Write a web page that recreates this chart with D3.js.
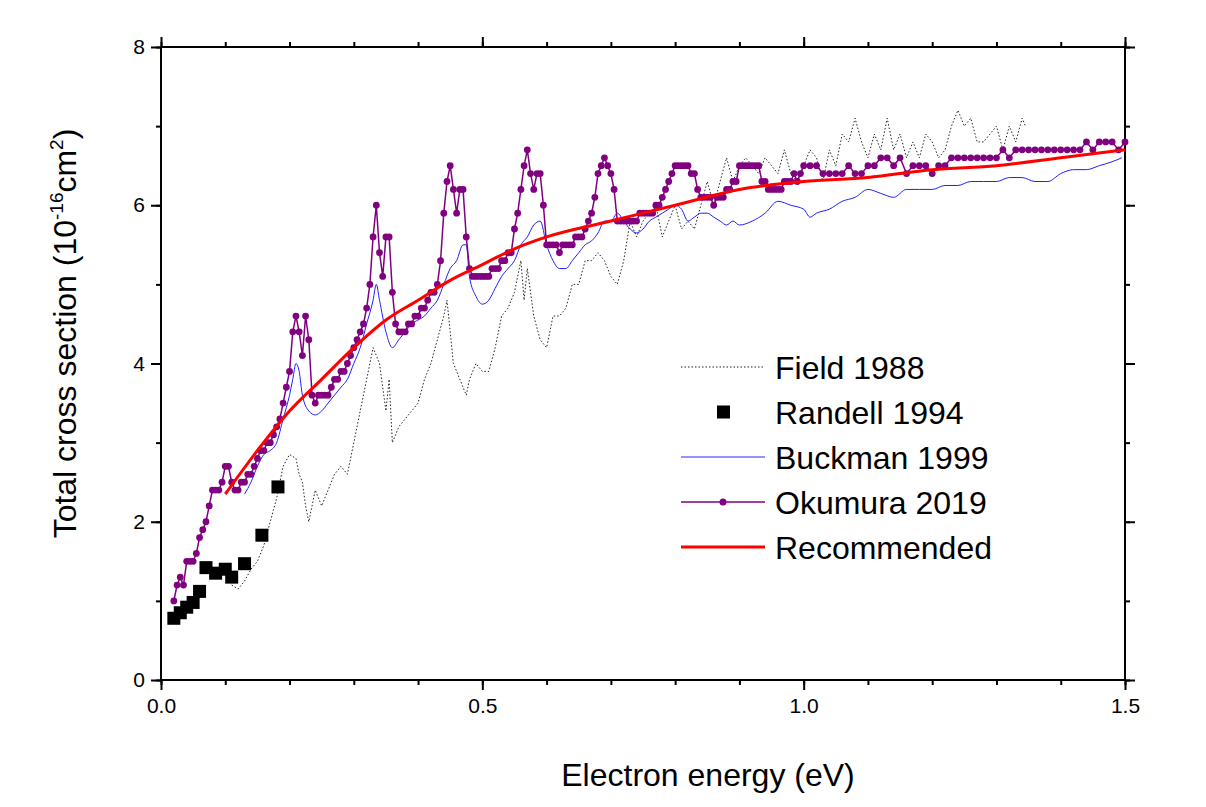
<!DOCTYPE html>
<html>
<head>
<meta charset="utf-8">
<script src="https://cdn.jsdelivr.net/npm/d3@7"></script>
<style>
  body { margin:0; background:#fff; }
  text { font-family:"Liberation Sans", Arial, sans-serif; }
</style>
</head>
<body>
<svg id="chart" width="1206" height="807"></svg>
<script>
/* ---------- data ---------- */
const randellE = [0.02,0.03,0.04,0.05,0.06,0.07,0.085,0.10,0.11,0.13,0.157,0.182];
const randellV = [0.78,0.85,0.92,0.98,1.12,1.42,1.35,1.40,1.30,1.47,1.83,2.44];

const fieldE = [0.11,0.12,0.13,0.14,0.15,0.16,0.17,0.18,0.19,0.20,0.21,0.215,0.22,0.225,0.23,0.24,0.25,0.26,0.27,0.28,0.29,0.30,0.31,0.32,0.33,0.34,0.345,0.35,0.355,0.36,0.37,0.38,0.39,0.40,0.41,0.42,0.43,0.44,0.445,0.45,0.455,0.46,0.47,0.475,0.48,0.49,0.50,0.51,0.52,0.53,0.54,0.55,0.56,0.565,0.57,0.58,0.59,0.60,0.61,0.62,0.63,0.64,0.65,0.66,0.67,0.68,0.69,0.70,0.71,0.72,0.73,0.74,0.75,0.76,0.77,0.78,0.79,0.80,0.81,0.82,0.83,0.84,0.85,0.86,0.87,0.88,0.89,0.90,0.91,0.92,0.93,0.94,0.95,0.96,0.97,0.98,0.99,1.00,1.01,1.02,1.03,1.04,1.05,1.06,1.07,1.08,1.09,1.10,1.11,1.12,1.13,1.14,1.15,1.16,1.17,1.18,1.19,1.20,1.21,1.22,1.23,1.24,1.25,1.26,1.27,1.28,1.29,1.30,1.31,1.32,1.33,1.34,1.345];
const fieldV = [1.2,1.15,1.25,1.4,1.5,1.7,2.0,2.3,2.7,2.85,2.8,2.6,2.5,2.2,2.0,2.4,2.2,2.4,2.6,2.7,2.6,3.0,3.4,3.8,4.2,4.0,3.7,3.4,3.8,3.0,3.2,3.3,3.4,3.5,3.8,4.0,4.3,4.6,4.8,4.4,4.0,3.9,3.7,3.6,3.8,4.0,3.9,3.9,4.2,4.6,4.7,4.9,5.3,4.8,5.2,4.6,4.3,4.2,4.6,4.6,4.7,5.0,5.0,5.3,5.3,5.4,5.3,5.1,5.0,5.3,5.8,5.6,5.8,5.9,6.0,5.6,5.8,6.0,5.7,5.8,5.7,6.0,6.3,6.0,6.3,6.6,6.3,6.5,6.6,6.5,6.4,6.6,6.5,6.4,6.7,6.4,6.3,6.5,6.7,6.6,6.3,6.7,6.5,6.9,6.8,7.1,6.8,6.6,6.9,6.7,7.1,6.7,6.9,6.6,6.8,6.6,6.9,6.8,6.6,6.7,7.0,7.2,7.0,7.1,6.8,6.8,6.9,7.0,6.7,7.0,6.8,7.1,7.0];

const buckmanE = [0.13,0.14,0.15,0.16,0.17,0.18,0.19,0.20,0.205,0.21,0.215,0.22,0.23,0.24,0.25,0.26,0.27,0.28,0.29,0.30,0.31,0.32,0.33,0.335,0.34,0.35,0.36,0.37,0.38,0.39,0.40,0.41,0.42,0.43,0.44,0.45,0.46,0.47,0.475,0.48,0.49,0.50,0.51,0.52,0.53,0.54,0.55,0.56,0.57,0.58,0.59,0.60,0.61,0.62,0.63,0.64,0.65,0.66,0.67,0.68,0.69,0.70,0.71,0.72,0.73,0.74,0.75,0.76,0.77,0.78,0.79,0.80,0.81,0.82,0.83,0.84,0.85,0.86,0.87,0.88,0.89,0.90,0.92,0.94,0.96,0.98,1.00,1.01,1.02,1.04,1.06,1.08,1.10,1.12,1.14,1.16,1.18,1.20,1.22,1.24,1.26,1.28,1.30,1.32,1.34,1.36,1.38,1.40,1.42,1.44,1.46,1.48,1.495];
const buckmanV = [2.35,2.5,2.7,2.85,2.9,3.0,3.3,3.6,3.8,4.0,3.9,3.6,3.4,3.35,3.4,3.5,3.6,3.7,3.8,4.0,4.2,4.5,4.8,5.0,4.8,4.4,4.2,4.3,4.4,4.5,4.55,4.6,4.7,4.8,5.0,5.2,5.3,5.5,5.5,5.1,4.85,4.75,4.8,4.95,5.1,5.2,5.3,5.5,5.6,5.75,5.8,5.5,5.3,5.2,5.2,5.3,5.4,5.5,5.55,5.65,5.8,5.8,5.9,5.8,5.7,5.65,5.7,5.8,5.85,5.9,5.95,6.0,5.95,5.8,5.85,5.9,5.9,5.85,5.8,5.75,5.8,5.75,5.8,5.9,6.05,6.0,5.95,5.85,5.9,5.95,6.05,6.1,6.2,6.15,6.1,6.2,6.2,6.2,6.25,6.25,6.3,6.3,6.3,6.35,6.35,6.3,6.3,6.4,6.45,6.45,6.5,6.55,6.6];

const okumuraE = [0.02,0.025,0.03,0.035,0.04,0.045,0.05,0.055,0.06,0.065,0.07,0.075,0.08,0.085,0.09,0.095,0.10,0.105,0.11,0.115,0.12,0.125,0.13,0.135,0.14,0.145,0.15,0.155,0.16,0.165,0.17,0.175,0.18,0.185,0.19,0.195,0.20,0.205,0.21,0.215,0.22,0.225,0.23,0.235,0.24,0.245,0.25,0.255,0.26,0.265,0.27,0.275,0.28,0.285,0.29,0.295,0.30,0.305,0.31,0.315,0.32,0.325,0.33,0.335,0.34,0.345,0.35,0.355,0.36,0.365,0.37,0.375,0.38,0.385,0.39,0.395,0.40,0.405,0.41,0.415,0.42,0.425,0.43,0.435,0.44,0.445,0.45,0.455,0.46,0.465,0.47,0.475,0.48,0.485,0.49,0.495,0.50,0.505,0.51,0.515,0.52,0.525,0.53,0.535,0.54,0.545,0.55,0.555,0.56,0.565,0.57,0.575,0.58,0.585,0.59,0.595,0.60,0.605,0.61,0.615,0.62,0.625,0.63,0.635,0.64,0.645,0.65,0.655,0.66,0.665,0.67,0.675,0.68,0.685,0.69,0.695,0.70,0.705,0.71,0.715,0.72,0.725,0.73,0.735,0.74,0.745,0.75,0.755,0.76,0.765,0.77,0.775,0.78,0.785,0.79,0.795,0.80,0.805,0.81,0.815,0.82,0.825,0.83,0.835,0.84,0.845,0.85,0.855,0.86,0.865,0.87,0.875,0.88,0.885,0.89,0.895,0.90,0.905,0.91,0.915,0.92,0.925,0.93,0.935,0.94,0.945,0.95,0.955,0.96,0.965,0.97,0.975,0.98,0.985,0.99,0.995,1.00,1.01,1.02,1.03,1.04,1.05,1.06,1.07,1.08,1.09,1.10,1.11,1.12,1.13,1.14,1.15,1.16,1.17,1.18,1.19,1.20,1.21,1.22,1.23,1.24,1.25,1.26,1.27,1.28,1.29,1.30,1.31,1.32,1.33,1.34,1.35,1.36,1.37,1.38,1.39,1.40,1.41,1.42,1.43,1.44,1.45,1.46,1.47,1.48,1.49,1.50];
const okumuraV = [1.0,1.2,1.3,1.2,1.5,1.5,1.5,1.6,1.8,1.9,2.0,2.2,2.4,2.4,2.4,2.5,2.7,2.7,2.5,2.4,2.4,2.5,2.5,2.6,2.6,2.7,2.8,2.9,2.9,3.0,3.0,3.1,3.2,3.3,3.5,3.7,3.9,4.4,4.6,4.4,4.1,4.6,4.3,3.6,3.5,3.6,3.6,3.6,3.6,3.7,3.8,3.8,3.9,3.9,4.0,4.1,4.2,4.3,4.4,4.5,4.7,5.0,5.6,6.0,5.4,5.1,5.6,5.6,4.9,4.5,4.4,4.4,4.4,4.5,4.5,4.6,4.6,4.7,4.7,4.8,4.9,4.9,5.0,5.3,5.9,6.3,6.5,6.2,5.9,6.2,6.2,5.6,5.2,5.1,5.1,5.1,5.1,5.1,5.1,5.2,5.2,5.2,5.3,5.3,5.4,5.4,5.7,5.9,6.2,6.5,6.7,6.4,6.2,6.4,6.4,6.0,5.5,5.5,5.5,5.5,5.4,5.5,5.5,5.5,5.5,5.6,5.6,5.6,5.7,5.8,5.9,6.1,6.4,6.5,6.6,6.5,6.4,6.2,5.8,5.8,5.8,5.8,5.8,5.8,5.8,5.9,5.9,5.9,5.9,5.9,6.0,6.0,6.1,6.2,6.3,6.4,6.5,6.5,6.5,6.5,6.5,6.4,6.4,6.2,6.1,6.1,6.1,6.1,6.0,6.1,6.1,6.1,6.2,6.2,6.3,6.3,6.5,6.5,6.5,6.5,6.5,6.5,6.5,6.3,6.3,6.2,6.2,6.2,6.2,6.2,6.3,6.3,6.3,6.4,6.3,6.4,6.5,6.5,6.5,6.4,6.4,6.4,6.4,6.5,6.4,6.4,6.5,6.5,6.6,6.6,6.5,6.6,6.4,6.5,6.5,6.5,6.4,6.5,6.5,6.6,6.6,6.6,6.6,6.6,6.6,6.6,6.6,6.7,6.6,6.7,6.7,6.7,6.7,6.7,6.7,6.7,6.7,6.7,6.7,6.7,6.8,6.7,6.8,6.8,6.8,6.7,6.8];

const recE = [0.10,0.15,0.20,0.25,0.30,0.35,0.40,0.45,0.50,0.55,0.60,0.70,0.80,0.90,1.00,1.10,1.20,1.30,1.40,1.50];
const recV = [2.35,2.9,3.4,3.8,4.2,4.55,4.8,5.05,5.25,5.45,5.6,5.8,6.0,6.2,6.3,6.35,6.45,6.5,6.6,6.7];

const xMajor = [0, 0.5, 1.0, 1.5];
const yMajor = [0, 2, 4, 6, 8];

/* ---------- scales ---------- */
const svg = d3.select("#chart");
const m = { left:161, right:1125, top:47, bottom:680 };
const x = d3.scaleLinear().domain([0, 1.5]).range([m.left, m.right]);
const y = d3.scaleLinear().domain([0, 8]).range([m.bottom, m.top]);
const zip = (a, b) => a.map((v, i) => [v, b[i]]);
const line = d3.line().x(d => x(d[0])).y(d => y(d[1]));

/* ---------- axes ---------- */
const xMinor = d3.range(0, 1.51, 0.1).map(v => +v.toFixed(2));
const yMinor = d3.range(0, 8.01, 1);

function styleAxis(g){
  g.attr("font-size", 21).attr("font-family", "Liberation Sans, Arial, sans-serif");
  g.selectAll("line").attr("stroke", "#000").attr("stroke-width", 2);
  g.selectAll("text").attr("fill", "#000");
  g.select(".domain").remove();
}

svg.append("g").attr("transform", `translate(0,${m.bottom})`)
  .call(d3.axisBottom(x).tickValues(xMinor).tickSize(5).tickFormat("")).call(styleAxis);
svg.append("g").attr("transform", `translate(0,${m.bottom})`)
  .call(d3.axisBottom(x).tickValues(xMajor).tickSize(10).tickPadding(8).tickFormat(d3.format(".1f"))).call(styleAxis);
svg.append("g").attr("transform", `translate(0,${m.top})`)
  .call(d3.axisTop(x).tickValues(xMinor).tickSize(5).tickFormat("")).call(styleAxis);
svg.append("g").attr("transform", `translate(0,${m.top})`)
  .call(d3.axisTop(x).tickValues(xMajor).tickSize(10).tickFormat("")).call(styleAxis);
svg.append("g").attr("transform", `translate(${m.left},0)`)
  .call(d3.axisLeft(y).tickValues(yMinor).tickSize(5).tickFormat("")).call(styleAxis);
svg.append("g").attr("transform", `translate(${m.left},0)`)
  .call(d3.axisLeft(y).tickValues(yMajor).tickSize(10).tickPadding(6).tickFormat(d3.format("d"))).call(styleAxis);
svg.append("g").attr("transform", `translate(${m.right},0)`)
  .call(d3.axisRight(y).tickValues(yMinor).tickSize(5).tickFormat("")).call(styleAxis);
svg.append("g").attr("transform", `translate(${m.right},0)`)
  .call(d3.axisRight(y).tickValues(yMajor).tickSize(10).tickFormat("")).call(styleAxis);

svg.append("rect").attr("x", m.left).attr("y", m.top)
  .attr("width", m.right - m.left).attr("height", m.bottom - m.top)
  .attr("fill", "none").attr("stroke", "#000").attr("stroke-width", 2);

/* ---------- series ---------- */
svg.append("path").datum(zip(fieldE, fieldV)).attr("d", line)
  .attr("fill", "none").attr("stroke", "#222").attr("stroke-width", 1).attr("stroke-dasharray", "1.5,2");
svg.append("path").datum(zip(buckmanE, buckmanV)).attr("d", line.curve(d3.curveMonotoneX))
  .attr("fill", "none").attr("stroke", "#1f1fff").attr("stroke-width", 1);
line.curve(d3.curveLinear);
svg.append("path").datum(zip(okumuraE, okumuraV)).attr("d", line)
  .attr("fill", "none").attr("stroke", "#800080").attr("stroke-width", 1.5);
svg.append("g").selectAll("circle").data(zip(okumuraE, okumuraV)).join("circle")
  .attr("cx", d => x(d[0])).attr("cy", d => y(d[1])).attr("r", 3.4).attr("fill", "#800080");
svg.append("g").selectAll("rect").data(zip(randellE, randellV)).join("rect")
  .attr("x", d => x(d[0]) - 6.5).attr("y", d => y(d[1]) - 6.5)
  .attr("width", 13).attr("height", 13).attr("fill", "#000");
svg.append("path").datum(zip(recE, recV)).attr("d", line.curve(d3.curveMonotoneX))
  .attr("fill", "none").attr("stroke", "#ff0000").attr("stroke-width", 3);

/* ---------- legend ---------- */
const legend = [
  { name:"Field 1988", type:"dot" },
  { name:"Randell 1994", type:"sq" },
  { name:"Buckman 1999", type:"blue" },
  { name:"Okumura 2019", type:"ok" },
  { name:"Recommended", type:"red" }
];
const lg = svg.append("g").attr("transform", "translate(681,367)");
legend.forEach((d, i) => {
  const g = lg.append("g").attr("transform", `translate(0,${i * 45})`);
  if (d.type === "dot") g.append("line").attr("x2", 84).attr("stroke", "#222").attr("stroke-dasharray", "1.5,2");
  if (d.type === "blue") g.append("line").attr("x2", 84).attr("stroke", "#7070ff").attr("stroke-width", 1.5);
  if (d.type === "ok") { g.append("line").attr("x2", 84).attr("stroke", "#800080").attr("stroke-width", 1.5);
                         g.append("circle").attr("cx", 42).attr("r", 3.5).attr("fill", "#800080"); }
  if (d.type === "red") g.append("line").attr("x2", 84).attr("stroke", "#ff0000").attr("stroke-width", 3);
  if (d.type === "sq") g.append("rect").attr("x", 36).attr("y", -6.5).attr("width", 13).attr("height", 13).attr("fill", "#000");
  g.append("text").attr("x", 94).attr("dy", "0.36em").attr("font-size", 32).text(d.name);
});

/* ---------- titles ---------- */
svg.append("text").attr("x", 708).attr("y", 786)
  .attr("text-anchor", "middle").attr("font-size", 32).text("Electron energy (eV)");
const yt = svg.append("text").attr("transform", `translate(76,${(m.top + m.bottom) / 2 - 30}) rotate(-90)`)
  .attr("text-anchor", "middle").attr("font-size", 32);
yt.append("tspan").text("Total cross section (10");
yt.append("tspan").attr("font-size", 19).attr("dy", -13).text("-16");
yt.append("tspan").attr("dy", 13).text("cm");
yt.append("tspan").attr("font-size", 19).attr("dy", -13).text("2");
yt.append("tspan").attr("dy", 13).text(")");
</script>
</body>
</html>
